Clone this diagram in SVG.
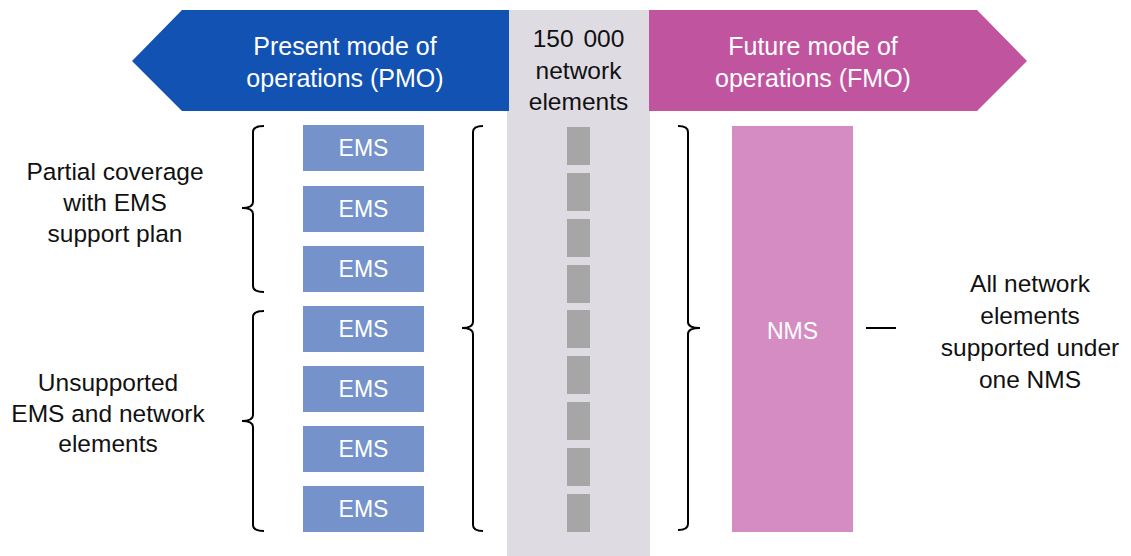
<svg xmlns="http://www.w3.org/2000/svg" width="1131" height="556" viewBox="0 0 1131 556">
<style>
text{font-family:"Liberation Sans",Arial,sans-serif;font-size:24.5px;text-anchor:middle}
.w{fill:#ffffff;font-size:25px}
.k{fill:#111111}
.ems{fill:#7592CB}
.ne{fill:#A6A6A6}
.br{fill:none;stroke:#000;stroke-width:2}
.et{font-size:23px;fill:#fff}
</style>
<rect id="band" x="507" y="10" width="143" height="546" fill="#DEDBE3"/>
<g id="pmo">
<polygon points="509,10 182,10 132,61 182,111 509,111" fill="#1252B2"/>
<text class="w" x="345" y="55">Present mode of</text>
<text class="w" x="345" y="87">operations (PMO)</text>
</g>
<g id="fmo">
<polygon points="649,10 977,10 1027,61 977,111 649,111" fill="#C1549F"/>
<text class="w" x="813" y="55">Future mode of</text>
<text class="w" x="813" y="87">operations (FMO)</text>
</g>
<g id="ne-title">
<text class="k" x="578.5" y="47" style="word-spacing:3px">150 000</text>
<text class="k" x="578.5" y="79">network</text>
<text class="k" x="578.5" y="110">elements</text>
</g>
<g id="ems1"><rect class="ems" x="303" y="125" width="121" height="46"/><text class="et" x="363.5" y="156">EMS</text></g>
<g id="ems2"><rect class="ems" x="303" y="186" width="121" height="46"/><text class="et" x="363.5" y="217">EMS</text></g>
<g id="ems3"><rect class="ems" x="303" y="246" width="121" height="46"/><text class="et" x="363.5" y="277">EMS</text></g>
<g id="ems4"><rect class="ems" x="303" y="306" width="121" height="46"/><text class="et" x="363.5" y="337">EMS</text></g>
<g id="ems5"><rect class="ems" x="303" y="366" width="121" height="46"/><text class="et" x="363.5" y="397">EMS</text></g>
<g id="ems6"><rect class="ems" x="303" y="426" width="121" height="46"/><text class="et" x="363.5" y="457">EMS</text></g>
<g id="ems7"><rect class="ems" x="303" y="486" width="121" height="46"/><text class="et" x="363.5" y="517">EMS</text></g>
<g id="elements">
<rect class="ne" x="567" y="127" width="23" height="38"/>
<rect class="ne" x="567" y="173" width="23" height="38"/>
<rect class="ne" x="567" y="219" width="23" height="38"/>
<rect class="ne" x="567" y="265" width="23" height="38"/>
<rect class="ne" x="567" y="310" width="23" height="38"/>
<rect class="ne" x="567" y="356" width="23" height="38"/>
<rect class="ne" x="567" y="402" width="23" height="38"/>
<rect class="ne" x="567" y="448" width="23" height="38"/>
<rect class="ne" x="567" y="494" width="23" height="38"/>
</g>
<g id="nms"><rect x="732" y="126" width="121" height="406" fill="#D58CC2"/><text class="et" x="792.5" y="339">NMS</text></g>
<g id="label-partial">
<text class="k" x="115" y="180">Partial coverage</text>
<text class="k" x="115" y="211">with EMS</text>
<text class="k" x="115" y="242">support plan</text>
</g>
<g id="label-unsupported">
<text class="k" x="108" y="391">Unsupported</text>
<text class="k" x="108" y="422">EMS and network</text>
<text class="k" x="108" y="452">elements</text>
</g>
<g id="label-all">
<text class="k" x="1030" y="292">All network</text>
<text class="k" x="1030" y="324">elements</text>
<text class="k" x="1030" y="356">supported under</text>
<text class="k" x="1030" y="388">one NMS</text>
</g>
<g id="connectors">
<path class="br" d="M264,126 Q253,126 253,132 L253,202 Q253,208 242,208 Q253,208 253,214 L253,286 Q253,292 264,292"/>
<path class="br" d="M264,311 Q253,311 253,317 L253,415 Q253,421 242,421 Q253,421 253,427 L253,525 Q253,531 264,531"/>
<path class="br" d="M483,126 Q473,126 473,132 L473,322 Q473,328 462,328 Q473,328 473,334 L473,525 Q473,531 483,531"/>
<path class="br" d="M678,126 Q688,126 688,132 L688,322 Q688,328 700,328 Q688,328 688,334 L688,524 Q688,530 678,530"/>
<line class="br" x1="866" y1="328" x2="896" y2="328"/>
</g>
</svg>
